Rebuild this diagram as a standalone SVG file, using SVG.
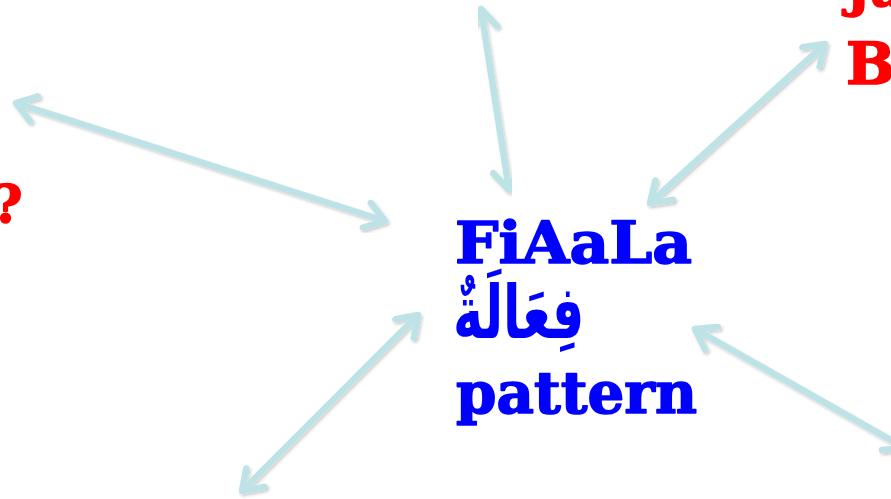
<svg xmlns="http://www.w3.org/2000/svg" width="891" height="499" viewBox="0 0 891 499">
<style>
.conn{stroke:#BEE3E6;stroke-width:6.5;fill:none;marker-start:url(#ah);marker-end:url(#ah);filter:url(#sh)}
.main{font-family:"DejaVu Serif","Liberation Serif",serif;font-weight:bold;fill:#0000FF;stroke:#0000FF;stroke-width:1.6;stroke-linejoin:round}
.ar{font-family:"DejaVu Sans","Noto Sans",sans-serif;font-weight:bold;fill:#0000FF}
.red{font-family:"DejaVu Serif","Liberation Serif",serif;font-weight:bold;fill:#FF0000;stroke:#FF0000;stroke-width:1.6;stroke-linejoin:round}
</style>
<defs>
<marker id="ah" markerUnits="userSpaceOnUse" viewBox="-26 -16 30 32" refX="0" refY="0" markerWidth="30" markerHeight="32" orient="auto-start-reverse">
<path d="M-19,-13 L0,0 L-19,13" fill="none" stroke="#BEE3E6" stroke-width="6.5" stroke-linecap="round" stroke-linejoin="round"/>
</marker>
<filter id="sh" x="-10%" y="-10%" width="120%" height="120%">
<feDropShadow dx="1.5" dy="2" stdDeviation="1.5" flood-color="#000" flood-opacity="0.2"/>
</filter>
</defs>
<rect width="891" height="499" fill="#FFFFFF"/>
<g id="connectors">
<line class="conn" x1="16" y1="103" x2="385" y2="221"/>
<line class="conn" x1="481" y1="9" x2="509" y2="190"/>
<line class="conn" x1="825" y1="44" x2="650" y2="203"/>
<line class="conn" x1="418" y1="315" x2="242" y2="491"/>
<line class="conn" x1="695" y1="329" x2="905" y2="448"/>
</g>
<g id="center">
<text class="main" x="455" y="263" font-size="58" textLength="237" lengthAdjust="spacingAndGlyphs">FiAaLa</text>
<text class="ar" transform="translate(453 338) scale(1 1.45)" x="0" y="0" font-size="51">فِعَالَةٌ</text>
<text class="main" x="456" y="413" font-size="58" textLength="241" lengthAdjust="spacingAndGlyphs">pattern</text>
</g>
<g id="left-label">
<text class="red" x="-8" y="222" font-size="52">?</text>
</g>
<g id="top-right-label">
<text class="red" x="846" y="6" font-size="52">Ja</text>
<text class="red" x="846" y="84" font-size="58">B</text>
</g>
</svg>
